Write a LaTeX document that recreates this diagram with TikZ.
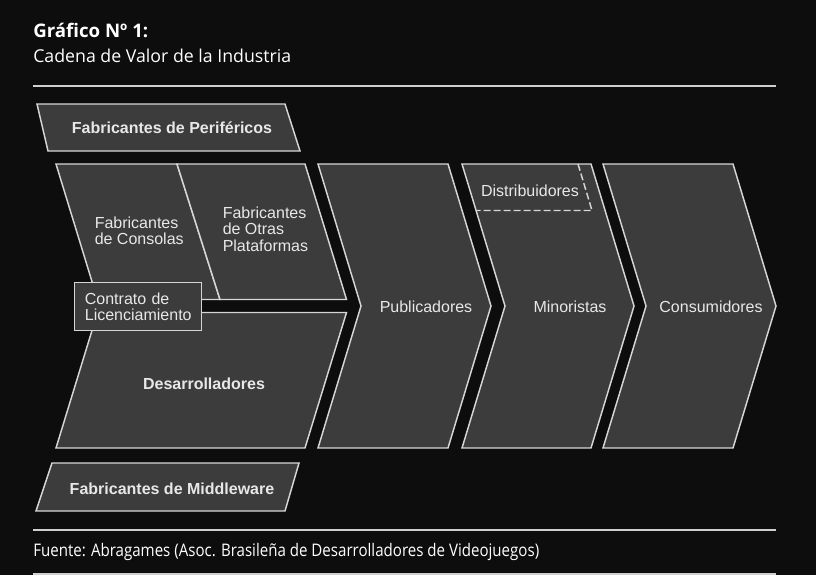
\documentclass[tikz,border=0pt]{standalone}
\usepackage{fontspec}
\usepackage{graphicx}
\setmainfont{Liberation Sans}
\newfontfamily\titlefont{Open Sans}
\definecolor{bg}{HTML}{0D0D0D}
\definecolor{shapefill}{HTML}{3C3C3C}
\definecolor{edge}{HTML}{D6D6D6}
\definecolor{txt}{HTML}{E8E8E8}
\definecolor{rulecol}{HTML}{CFCFCF}
\begin{document}
\begin{tikzpicture}[x=0.75pt,y=-0.75pt,
  blockshape/.style={fill=shapefill,draw=edge,line width=1.1pt,line join=miter},
  dashedge/.style={draw=edge,line width=1.1pt,dash pattern=on 5.25pt off 2.25pt},
  lbl/.style={text=txt,font=\fontsize{12}{12.4}\selectfont,inner sep=0pt,align=left},
  boldlbl/.style={text=txt,font=\fontsize{12}{12.4}\selectfont\bfseries,inner sep=0pt},
  hrule/.style={draw=rulecol,line width=0.9pt},
  headtext/.style={text=white,font=\titlefont\fontsize{13.3}{15}\selectfont,inner sep=0pt,anchor=base west}]
\fill[bg] (0,0) rectangle (816,575);
\useasboundingbox (0,0) rectangle (816,575);

% header
\node[headtext,font=\titlefont\bfseries\fontsize{14}{15}\selectfont] (title) at (33,37) {Gráfico Nº 1:};
\node[headtext] (subtitle) at (33,62) {Cadena de Valor de la Industria};
\coordinate (r1a) at (33,86); \coordinate (r1b) at (776,86);
\draw[hrule] (r1a) -- (r1b);

% top bar
\draw[blockshape] (37,104) -- (285,104) -- (300,151) -- (48,151) -- cycle;
\node[boldlbl] (perif) at (172,128) {Fabricantes de Periféricos};

% left composite shape
\draw[blockshape] (56,164) -- (177,164) -- (220,299.5) -- (97.5,299.5) -- cycle;
\draw[blockshape] (177,164) -- (305,164) -- (346.5,299.5) -- (220,299.5) -- cycle;
\draw[blockshape] (97.5,312.5) -- (346.5,312.5) -- (305,448) -- (56,448) -- cycle;
\node[lbl,anchor=west] (consolas) at (94.5,231) {Fabricantes\\de Consolas};
\node[lbl,anchor=west] (otras) at (222.5,229) {Fabricantes\\de Otras\\Plataformas};
\node[lbl,fill=shapefill,draw=edge,line width=1.1pt,anchor=north west,
      minimum width=95.25pt,minimum height=36pt,text width=80pt,inner xsep=7.5pt,inner ysep=0pt]
      (contrato) at (74,282) {Contrato de\\Licenciamiento};
\node[boldlbl] (desarr) at (204,384) {Desarrolladores};

% chevrons
\draw[blockshape] (318,164) -- (448,164) -- (491,306) -- (448,448) -- (318,448) -- (361,306) -- cycle;
\node[lbl] (publ) at (426,307) {Publicadores};
\draw[blockshape] (462,164) -- (591,164) -- (634,306) -- (591,448) -- (462,448) -- (505,306) -- cycle;
\draw[dashedge] (578,164) -- (592,210.5) -- (476.5,210.5);
\node[lbl] (distr) at (530,191) {Distribuidores};
\node[lbl] (minor) at (570,307) {Minoristas};
\draw[blockshape] (603,164) -- (733,164) -- (776,306) -- (733,448) -- (603,448) -- (646,306) -- cycle;
\node[lbl] (consum) at (711,307) {Consumidores};

% bottom bar
\draw[blockshape] (52,463) -- (299,463) -- (285,511) -- (36,511) -- cycle;
\node[boldlbl] (middle) at (172,489) {Fabricantes de Middleware};

% footer
\coordinate (r2a) at (33,530); \coordinate (r2b) at (776,530);
\draw[hrule] (r2a) -- (r2b);
\node[headtext,font=\titlefont\fontsize{13}{15}\selectfont] (fuente) at (33,556.5) {\scalebox{0.87}[1]{Fuente: Abragames (Asoc. Brasileña de Desarrolladores de Videojuegos)}};
\coordinate (r3a) at (33,574); \coordinate (r3b) at (776,574);
\draw[hrule] (r3a) -- (r3b);
\end{tikzpicture}
\end{document}
